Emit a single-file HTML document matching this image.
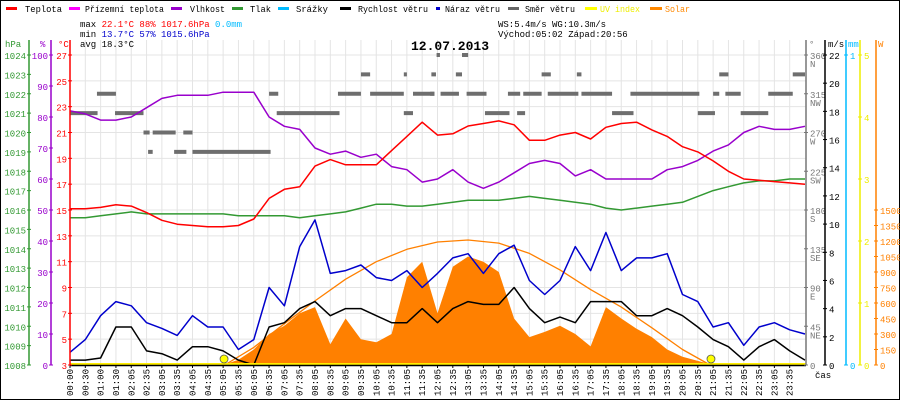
<!DOCTYPE html>
<html><head><meta charset="utf-8"><style>
html,body{margin:0;padding:0;background:#fff}
svg{display:block;font-family:"Liberation Mono",monospace}
</style></head><body>
<svg id="c" width="900" height="400" viewBox="0 0 900 400">
<rect x="0.5" y="0.5" width="899" height="399" fill="#fff" stroke="#000"/>
<g id="grid"></g>
<g id="marks"></g>
<g id="axes"></g>
<g font-size="9">
 <g><rect x="6" y="7" width="11" height="3" fill="#f00"/><text x="25" y="12" textLength="37" lengthAdjust="spacingAndGlyphs">Teplota</text></g>
 <g><rect x="69" y="7" width="11" height="3" fill="#f0f"/><text x="85" y="12" textLength="79" lengthAdjust="spacingAndGlyphs">Přízemní teplota</text></g>
 <g><rect x="171" y="7" width="11" height="3" fill="#90c"/><text x="190" y="12" textLength="35" lengthAdjust="spacingAndGlyphs">Vlhkost</text></g>
 <g><rect x="232" y="7" width="11" height="3" fill="#393"/><text x="250" y="12" textLength="21" lengthAdjust="spacingAndGlyphs">Tlak</text></g>
 <g><rect x="278" y="7" width="11" height="3" fill="#0bf"/><text x="296" y="12" textLength="32" lengthAdjust="spacingAndGlyphs">Srážky</text></g>
 <g><rect x="340" y="7" width="11" height="3" fill="#000"/><text x="358" y="12" textLength="70" lengthAdjust="spacingAndGlyphs">Rychlost větru</text></g>
 <g><rect x="436" y="7" width="4" height="3" fill="#00c"/><text x="445" y="12" textLength="55" lengthAdjust="spacingAndGlyphs">Náraz větru</text></g>
 <g><rect x="508" y="7" width="11" height="3" fill="#666"/><text x="525" y="12" textLength="50" lengthAdjust="spacingAndGlyphs">Směr větru</text></g>
 <g><rect x="585" y="7" width="12" height="3" fill="#ff0"/><text x="600" y="12" fill="#ee0" textLength="40" lengthAdjust="spacingAndGlyphs">UV index</text></g>
 <g><rect x="650" y="7" width="12" height="3" fill="#f80"/><text x="665" y="12" fill="#f80" textLength="25" lengthAdjust="spacingAndGlyphs">Solar</text></g>
</g>
<g font-size="9">
 <text x="80" y="27">max <tspan fill="#f00">22.1°C  88%  1017.6hPa</tspan>   <tspan fill="#0bf">0.0mm</tspan></text>
 <text x="80" y="37">min <tspan fill="#00c">13.7°C  57%  1015.6hPa</tspan></text>
 <text x="80" y="47">avg 18.3°C</text>
 <text x="498" y="27">WS:5.4m/s   WG:10.3m/s</text>
 <text x="498" y="37">Východ:05:02 Západ:20:56</text>
</g>
<text x="450" y="50" text-anchor="middle" font-size="13" font-weight="bold">12.07.2013</text>
</svg>
<script>
const hours=[0,0.5,1,1.5,2,2.5,3,3.5,4,4.5,5,5.5,6,6.5,7,7.5,8,8.5,9,9.5,10,10.5,11,11.5,12,12.5,13,13.5,14,14.5,15,15.5,16,16.5,17,17.5,18,18.5,19,19.5,20,20.5,21,21.5,22,22.5,23,23.5,24];
const temperature=[15.1,15.1,15.2,15.4,15.3,14.8,14.2,13.9,13.8,13.7,13.7,13.8,14.3,15.9,16.6,16.8,18.4,18.9,18.5,18.5,18.5,19.6,20.7,21.8,20.8,20.9,21.5,21.7,21.9,21.6,20.4,20.4,20.8,21.0,20.5,21.4,21.7,21.8,21.2,20.7,19.9,19.5,18.8,18.0,17.4,17.3,17.2,17.1,17.0];
const humidity=[82,81,79,79,80,83,86,87,87,87,88,88,88,80,77,76,70,68,69,67,68,64,63,59,60,63,59,57,59,62,65,66,65,61,63,60,60,60,60,63,64,66,69,71,75,77,76,76,77];
const pressure=[1015.6,1015.6,1015.7,1015.8,1015.9,1015.8,1015.8,1015.8,1015.8,1015.8,1015.8,1015.7,1015.7,1015.7,1015.7,1015.6,1015.7,1015.8,1015.9,1016.1,1016.3,1016.3,1016.2,1016.2,1016.3,1016.4,1016.5,1016.5,1016.5,1016.6,1016.7,1016.6,1016.5,1016.4,1016.3,1016.1,1016.0,1016.1,1016.2,1016.3,1016.4,1016.7,1017.0,1017.2,1017.4,1017.5,1017.5,1017.6,1017.6];
const gust=[0.9,1.8,3.5,4.5,4.2,3.0,2.6,2.1,3.5,2.7,2.7,1.1,1.8,5.5,4.2,8.4,10.3,6.5,6.7,7.1,6.2,6.0,6.7,5.5,6.5,7.6,7.9,6.5,7.9,8.5,6.0,5.0,6.0,8.4,6.7,9.4,6.7,7.6,7.6,7.9,5.0,4.5,2.7,3.0,1.4,2.7,3.0,2.5,2.2];
const wind=[0.35,0.35,0.5,2.7,2.7,1.0,0.8,0.35,1.3,1.3,1.0,0.35,0,2.7,3.0,4.0,4.5,3.5,4.0,4.0,3.5,3.0,3.0,4.0,3.0,4.0,4.5,4.3,4.3,5.5,4.0,3.0,3.4,3.0,4.5,4.5,4.5,3.5,3.5,4.0,3.5,2.7,1.8,1.3,0.35,1.3,1.8,1.0,0.35];
const solar=[0,0,0,0,0,0,0,0,0,0,0,50,150,300,380,500,560,200,450,250,220,300,850,1000,500,950,1050,1000,900,450,270,320,380,300,180,560,450,350,270,150,80,40,0,0,0,0,0,0,0];
const solarModelHours=[5.05,6,7,8,9,10,11,12,13,14,15,16,17,18,19,20,20.9];
const solarModel=[0,170,400,620,830,1000,1120,1190,1210,1180,1080,920,730,560,360,150,0];
const dirStart=[0,0.88,1.47,2.4,2.55,2.7,3.4,3.7,4.0,6.5,6.75,8.75,9.5,9.8,10.9,10.9,11.2,11.76,11.8,11.97,12.1,12.6,12.8,12.95,13.55,14.3,14.6,14.8,15.4,15.6,16.55,16.7,17.7,18.3,20.5,21.0,21.2,21.4,21.9,22.8,23.6];
const dirEnd=[0.9,1.5,2.4,2.6,2.7,3.45,3.8,4.0,6.55,6.8,8.8,9.5,9.8,10.9,11.0,11.2,11.9,11.9,11.95,12.08,12.7,12.8,13.0,13.6,14.35,14.7,14.86,15.4,15.7,16.6,16.7,17.7,18.4,20.55,21.06,21.2,21.5,21.9,22.8,23.6,24];
const dirDeg=[292.5,315,292.5,270,247.5,270,247.5,270,247.5,315,292.5,315,337.5,315,337.5,292.5,315,315,337.5,360,315,337.5,360,315,292.5,315,292.5,315,337.5,315,337.5,315,292.5,315,292.5,315,337.5,315,292.5,315,337.5];
const sunEvents=[5.03,20.93];
const timeLabels=["00:00","00:30","01:00","01:30","02:05","02:35","03:05","03:35","04:05","04:35","05:05","05:35","06:05","06:35","07:05","07:35","08:05","08:35","09:05","09:35","10:05","10:35","11:05","11:35","12:05","12:35","13:05","13:35","14:05","14:35","15:05","15:35","16:05","16:35","17:05","17:35","18:05","18:35","19:05","19:35","20:05","20:35","21:05","21:35","22:05","22:35","23:05","23:35"];
const hpaTicks=[1008,1009,1010,1011,1012,1013,1014,1015,1016,1017,1018,1019,1020,1021,1022,1023,1024];
const pctTicks=[0,10,20,30,40,50,60,70,80,90,100];
const tempTicks=[3,5,7,9,11,13,15,17,19,21,23,25,27];
const dirTicks=[0,45,90,135,180,225,270,315,360];
const dirNames=["","NE","E","SE","S","SW","W","NW","N"];
const msTicks=[0,2,4,6,8,10,12,14,16,18,20,22];
const uvTicks=[0,1,2,3,4,5];
const wTicks=[0,150,300,450,600,750,900,1050,1200,1350,1500];

const NS='http://www.w3.org/2000/svg';
const TOP=55,BOT=365,L=70,R=806;
const xT=h=>L+h*(R-L-1)/24;
const yC=t=>BOT-(t-3)*(BOT-TOP)/24;
const yP=p=>BOT-(p-1008)*(BOT-TOP)/16;
const yH=v=>BOT-v*(BOT-TOP)/100;
const yD=d=>BOT-d*(BOT-TOP)/360;
const yM=v=>BOT-v*(BOT-TOP)/22;
const yU=v=>BOT-v*(BOT-TOP)/5;
const yW=v=>BOT-v*(BOT-TOP)/3000;
function mk(tag,attrs,parent,txt){const e=document.createElementNS(NS,tag);for(const k in attrs)e.setAttribute(k,attrs[k]);if(txt!==undefined)e.textContent=txt;parent.appendChild(e);return e;}
const grid=document.getElementById('grid'),marks=document.getElementById('marks'),axes=document.getElementById('axes');

tempTicks.forEach(t=>{const l=mk('line',{x1:L,x2:R,y1:yC(t),y2:yC(t),stroke:'#e4e4e4'},grid);

});
timeLabels.forEach((s,i)=>{const x=xT(i*0.5);const l=mk('line',{x1:x,x2:x,y1:40,y2:BOT,stroke:'#e4e4e4'},grid);


const tk=mk('line',{x1:x,x2:x,y1:BOT,y2:BOT+3,stroke:'#000'},axes);


const t=mk('text',{x:x+3,y:369,'font-size':9,'text-anchor':'end',transform:`rotate(-90 ${x+3} 369)`},axes,s);

});

function path(xs,ys,fx,fy,col,w,name){let d='';xs.forEach((h,i)=>{d+=(i?'L':'M')+xT(h).toFixed(1)+','+fy(ys[i]).toFixed(1);});const p=mk('path',{d:d,fill:'none',stroke:col,'stroke-width':w,'stroke-linejoin':'round'},marks);

return p;}

let ad='M'+xT(hours[0])+','+BOT;hours.forEach((h,i)=>{ad+='L'+xT(h).toFixed(1)+','+yW(solar[i]).toFixed(1);});ad+='L'+xT(24)+','+BOT+'Z';
const sa=mk('path',{d:ad,fill:'#ff8000'},marks);


path(solarModelHours,solarModel,xT,yW,'#ff8000',1.3,'solar-model-line');
dirDeg.forEach((d,i)=>{const r=mk('rect',{x:xT(dirStart[i]),y:yD(d)-2,width:Math.max(3,xT(dirEnd[i])-xT(dirStart[i])),height:4,fill:'#6e6e6e'},marks);

});
path(hours,pressure,xT,yP,'#339933',1.5,'pressure-line');
path(hours,humidity,xT,yH,'#9900cc',1.5,'humidity-line');
path(hours,temperature,xT,yC,'#ff0000',1.5,'temperature-line');
path(hours,gust,xT,yM,'#0000cc',1.5,'gust-line');
path(hours,wind,xT,yM,'#000000',1.5,'wind-speed-line');
const uv=mk('line',{x1:L,x2:R,y1:BOT-1,y2:BOT-1,stroke:'#ffee00','stroke-width':2},marks);


sunEvents.forEach(h=>{const c=mk('circle',{cx:xT(h),cy:BOT-6,r:4,fill:'#ff0',stroke:'#555','stroke-width':0.8},marks);

});
const xa=mk('line',{x1:L,x2:R,y1:BOT+0.5,y2:BOT+0.5,stroke:'#000','stroke-width':1.5},axes);



function axis(x,ticks,fy,col,labels,left,name,head,hx){
 const a=mk('line',{x1:x,x2:x,y1:40,y2:BOT,stroke:col,'stroke-width':1.5},axes);
 
 
 ticks.forEach((v,i)=>{const y=fy(v);mk('line',{x1:x-2,x2:x+2,y1:y,y2:y,stroke:col},axes);
  const t=mk('text',{x:left?x-3:x+4,y:y+4,'font-size':9,fill:col,'text-anchor':left?'end':'start'},axes,labels?labels[i]:v);
  
  });
 const h=mk('text',{x:hx,y:47,'font-size':9,fill:col},axes,head);
 
 
}
axis(29,hpaTicks,yP,'#339933',null,true,'hpa-axis','hPa',5);
axis(51,pctTicks,yH,'#9900cc',null,true,'humidity-axis','%',40);
axis(70,tempTicks,yC,'#ff0000',null,true,'temp-axis','°C',58);
axis(806,dirTicks,yD,'#777',null,false,'direction-axis','°',809);
dirTicks.forEach((d,i)=>{const t=mk('text',{x:810,y:yD(d)+12,'font-size':9,fill:'#777'},axes,dirNames[i]);

});
axis(825,msTicks,yM,'#000',null,false,'wind-axis','m/s',828);
axis(846,[0,1],v=>BOT-v*(BOT-TOP),'#0bf',null,false,'rain-axis','mm',848);
axis(860,uvTicks,yU,'#ee0',null,false,'uv-axis','',862);
axis(876,wTicks,yW,'#ff8000',null,false,'solar-axis','W',878);
const cas=mk('text',{x:815,y:378,'font-size':9},axes,'čas');


</script>
</body></html>
